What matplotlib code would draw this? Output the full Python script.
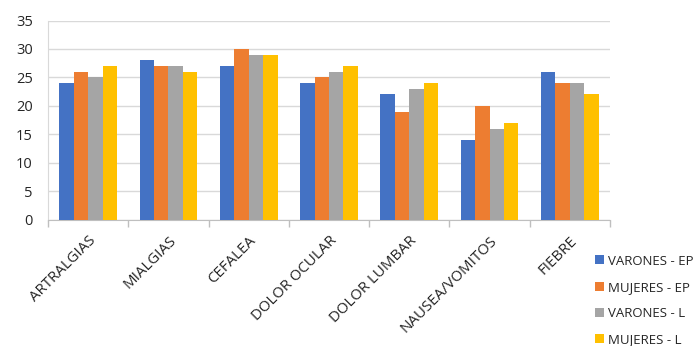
import numpy as np
import matplotlib.pyplot as plt

plt.rcParams['font.family'] = ['Open Sans', 'DejaVu Sans']

# datos
categorias = ['ARTRALGIAS', 'MIALGIAS', 'CEFALEA', 'DOLOR OCULAR',
              'DOLOR LUMBAR', 'NAUSEA/VOMITOS', 'FIEBRE']
varones_ep = [24, 28, 27, 24, 22, 14, 26]
mujeres_ep = [26, 27, 30, 25, 19, 20, 24]
varones_l = [25, 27, 29, 26, 23, 16, 24]
mujeres_l = [27, 26, 29, 27, 24, 17, 22]

series = [('VARONES - EP', varones_ep, '#4472C4'),
          ('MUJERES - EP', mujeres_ep, '#ED7D31'),
          ('VARONES - L', varones_l, '#A5A5A5'),
          ('MUJERES - L', mujeres_l, '#FFC000')]

fig = plt.figure(figsize=(6.98, 3.46), dpi=100)
ax = fig.add_axes([0.0688, 0.3656, 0.805, 0.575])

x = np.arange(len(categorias))
w = 0.18
for i, (nombre, vals, color) in enumerate(series):
    ax.bar(x + (i - 1.5) * w, vals, w, color=color, label=nombre, zorder=3)

ax.set_xlim(-0.5, len(categorias) - 0.5)
ax.set_ylim(0, 35)
ax.set_yticks(range(0, 36, 5))
ax.yaxis.grid(True, color='#d9d9d9', linewidth=1, zorder=0)

ax.set_xticks(np.arange(-0.5, len(categorias), 1))
ax.set_xticklabels([])
ax.set_xticks(x, minor=True)
ax.set_xticklabels(categorias, minor=True, rotation=45, ha='right',
                   rotation_mode='anchor', fontsize=10.8, color='#262626')
ax.tick_params(axis='x', which='major', length=5, color='#bfbfbf', width=1)
ax.tick_params(axis='x', which='minor', length=0, pad=10)
ax.tick_params(axis='y', length=0, pad=11, labelsize=10.5, labelcolor='#262626')

for s in ['top', 'right']:
    ax.spines[s].set_visible(False)
ax.spines['left'].set_color('#d9d9d9')
ax.spines['bottom'].set_color('#bfbfbf')

fig.legend(loc='center left', bbox_to_anchor=(0.836, 0.132), frameon=False,
           fontsize=9.5, handlelength=0.68, handleheight=0.68, handletextpad=0.3,
           labelspacing=1.0, labelcolor='#262626')

fig.savefig('out.png', dpi=100)
